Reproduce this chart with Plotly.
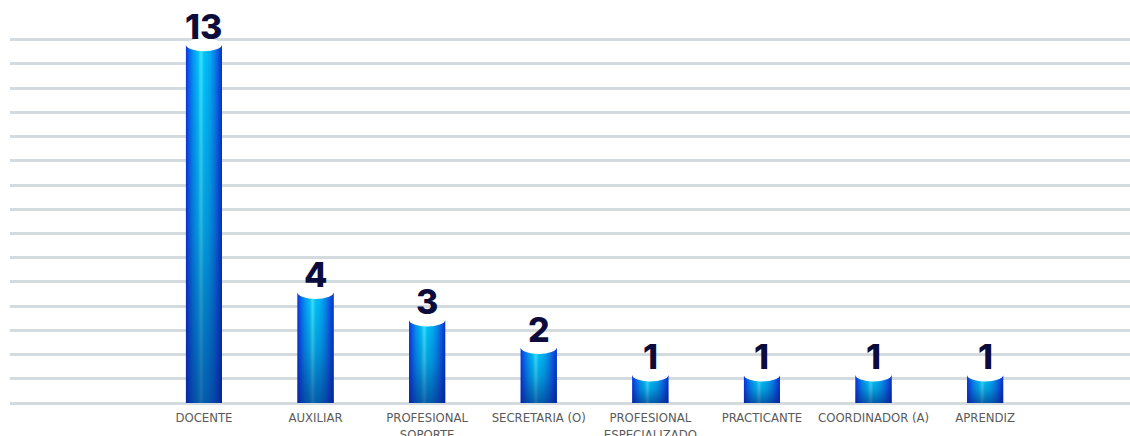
import plotly.graph_objects as go
import numpy as np

categories = ["DOCENTE", "AUXILIAR", "PROFESIONAL<br>SOPORTE", "SECRETARIA (O)",
              "PROFESIONAL<br>ESPECIALIZADO", "PRACTICANTE", "COORDINADOR (A)", "APRENDIZ"]
values = [13, 4, 3, 2, 1, 1, 1, 1]
value_labels = ["13", "4", "3", "2", "1", "1", "1", "1"]

pos = np.arange(len(categories))
W = 0.3226

cyl_scale = [
    [0.0, "#0b35d6"], [0.08, "#0a5ef0"], [0.2, "#0596f2"], [0.33, "#00bff8"],
    [0.42, "#3fe2ff"], [0.5, "#00c6fa"], [0.65, "#00b0f2"], [0.8, "#0a80ea"],
    [0.92, "#0a4fdc"], [1.0, "#0830c8"],
]
shade_scale = [[0.0, "rgba(5,25,120,0.6)"], [0.5, "rgba(5,25,120,0.22)"], [1.0, "rgba(5,25,120,0)"]]

fig = go.Figure()
fig.add_trace(go.Bar(x=pos, y=values, width=W, marker=dict(color="#0a4fdc", line=dict(width=0)),
                     hoverinfo="skip", showlegend=False))

for i, v in zip(pos, values):
    xs = [i - W / 2, i + W / 2, i + W / 2, i - W / 2, i - W / 2]
    ys = [0, 0, v, v, 0]
    fig.add_trace(go.Scatter(x=xs, y=ys, mode="none", fill="toself",
                             fillgradient=dict(type="horizontal", colorscale=cyl_scale),
                             hoverinfo="skip", showlegend=False))
    fig.add_trace(go.Scatter(x=xs, y=ys, mode="none", fill="toself",
                             fillgradient=dict(type="vertical", colorscale=shade_scale),
                             hoverinfo="skip", showlegend=False))

shapes = []
annotations = []
for i, v, t in zip(pos, values, value_labels):
    shapes.append(dict(type="circle", xref="x", yref="y", x0=i - W / 2, x1=i + W / 2,
                       ysizemode="pixel", yanchor=v, y0=-6, y1=7,
                       fillcolor="white", line=dict(width=0), layer="above"))
    annotations.append(dict(x=i, y=v, xref="x", yref="y", text=t, showarrow=False,
                            yanchor="bottom", yshift=-4,
                            font=dict(family="Inter, Lato, sans-serif", size=34, color="#0c0c3c", weight=800)))

fig.update_layout(
    width=1130, height=436,
    margin=dict(l=10, r=0, t=37, b=33, autoexpand=False),
    paper_bgcolor="white", plot_bgcolor="white",
    barmode="overlay",
    showlegend=False,
    shapes=shapes, annotations=annotations,
    xaxis=dict(range=[-1.738, 8.298], tickmode="array", tickvals=pos, ticktext=categories,
               showgrid=False, zeroline=False, showline=False, ticks="", ticklabelstandoff=5,
               automargin=False,
               tickfont=dict(family="Liberation Sans Narrow, DejaVu Sans Condensed, Roboto Condensed, sans-serif",
                             size=13, color="#5a5a5a")),
    yaxis=dict(range=[0, 13.3], tick0=0, dtick=0.88, showticklabels=False, ticks="", automargin=False,
               showgrid=True, gridcolor="#d3dbdf", gridwidth=2.5,
               zeroline=True, zerolinecolor="#d3dbdf", zerolinewidth=2.5, showline=False),
)

fig.write_html("out.html")
